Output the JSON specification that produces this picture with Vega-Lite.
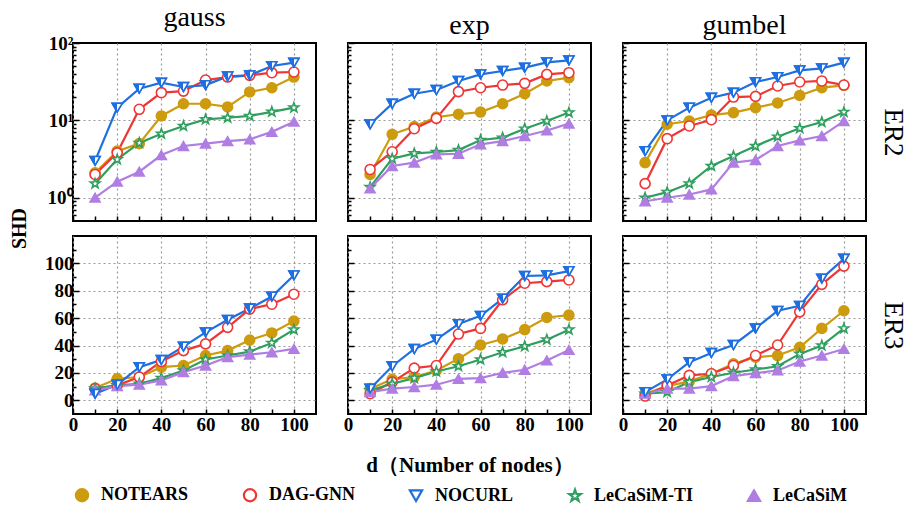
{
"$schema": "https://vega.github.io/schema/vega-lite/v6.json",
"background": "white",
"padding": {"left": 8, "top": 3, "right": 6, "bottom": 2},
"bounds": "flush",
"columns": 3,
"spacing": {"row": 15, "column": 32},
"datasets": {"shd": [
{"graph":"ER2","dist":"gauss","method":"NOTEARS","d":10,"shd":2.1},{"graph":"ER2","dist":"gauss","method":"NOTEARS","d":20,"shd":4.0},{"graph":"ER2","dist":"gauss","method":"NOTEARS","d":30,"shd":5.0},{"graph":"ER2","dist":"gauss","method":"NOTEARS","d":40,"shd":11.4},{"graph":"ER2","dist":"gauss","method":"NOTEARS","d":50,"shd":16.4},{"graph":"ER2","dist":"gauss","method":"NOTEARS","d":60,"shd":16.4},{"graph":"ER2","dist":"gauss","method":"NOTEARS","d":70,"shd":14.9},{"graph":"ER2","dist":"gauss","method":"NOTEARS","d":80,"shd":23.3},{"graph":"ER2","dist":"gauss","method":"NOTEARS","d":90,"shd":26.4},{"graph":"ER2","dist":"gauss","method":"NOTEARS","d":100,"shd":36.3},
{"graph":"ER2","dist":"gauss","method":"DAG-GNN","d":10,"shd":2.0},{"graph":"ER2","dist":"gauss","method":"DAG-GNN","d":20,"shd":3.8},{"graph":"ER2","dist":"gauss","method":"DAG-GNN","d":30,"shd":13.9},{"graph":"ER2","dist":"gauss","method":"DAG-GNN","d":40,"shd":22.8},{"graph":"ER2","dist":"gauss","method":"DAG-GNN","d":50,"shd":23.9},{"graph":"ER2","dist":"gauss","method":"DAG-GNN","d":60,"shd":33.2},{"graph":"ER2","dist":"gauss","method":"DAG-GNN","d":70,"shd":36.3},{"graph":"ER2","dist":"gauss","method":"DAG-GNN","d":80,"shd":38.2},{"graph":"ER2","dist":"gauss","method":"DAG-GNN","d":90,"shd":41.3},{"graph":"ER2","dist":"gauss","method":"DAG-GNN","d":100,"shd":42.2},
{"graph":"ER2","dist":"gauss","method":"NOCURL","d":10,"shd":3.0},{"graph":"ER2","dist":"gauss","method":"NOCURL","d":20,"shd":14.6},{"graph":"ER2","dist":"gauss","method":"NOCURL","d":30,"shd":25.7},{"graph":"ER2","dist":"gauss","method":"NOCURL","d":40,"shd":30.7},{"graph":"ER2","dist":"gauss","method":"NOCURL","d":50,"shd":27.0},{"graph":"ER2","dist":"gauss","method":"NOCURL","d":60,"shd":28.6},{"graph":"ER2","dist":"gauss","method":"NOCURL","d":70,"shd":37.0},{"graph":"ER2","dist":"gauss","method":"NOCURL","d":80,"shd":38.2},{"graph":"ER2","dist":"gauss","method":"NOCURL","d":90,"shd":50.4},{"graph":"ER2","dist":"gauss","method":"NOCURL","d":100,"shd":55.7},
{"graph":"ER2","dist":"gauss","method":"LeCaSiM-TI","d":10,"shd":1.52},{"graph":"ER2","dist":"gauss","method":"LeCaSiM-TI","d":20,"shd":3.13},{"graph":"ER2","dist":"gauss","method":"LeCaSiM-TI","d":30,"shd":5.1},{"graph":"ER2","dist":"gauss","method":"LeCaSiM-TI","d":40,"shd":6.7},{"graph":"ER2","dist":"gauss","method":"LeCaSiM-TI","d":50,"shd":8.45},{"graph":"ER2","dist":"gauss","method":"LeCaSiM-TI","d":60,"shd":10.3},{"graph":"ER2","dist":"gauss","method":"LeCaSiM-TI","d":70,"shd":10.8},{"graph":"ER2","dist":"gauss","method":"LeCaSiM-TI","d":80,"shd":11.4},{"graph":"ER2","dist":"gauss","method":"LeCaSiM-TI","d":90,"shd":12.9},{"graph":"ER2","dist":"gauss","method":"LeCaSiM-TI","d":100,"shd":14.6},
{"graph":"ER2","dist":"gauss","method":"LeCaSiM","d":10,"shd":1.0},{"graph":"ER2","dist":"gauss","method":"LeCaSiM","d":20,"shd":1.61},{"graph":"ER2","dist":"gauss","method":"LeCaSiM","d":30,"shd":2.17},{"graph":"ER2","dist":"gauss","method":"LeCaSiM","d":40,"shd":3.56},{"graph":"ER2","dist":"gauss","method":"LeCaSiM","d":50,"shd":4.66},{"graph":"ER2","dist":"gauss","method":"LeCaSiM","d":60,"shd":5.0},{"graph":"ER2","dist":"gauss","method":"LeCaSiM","d":70,"shd":5.4},{"graph":"ER2","dist":"gauss","method":"LeCaSiM","d":80,"shd":5.68},{"graph":"ER2","dist":"gauss","method":"LeCaSiM","d":90,"shd":7.1},{"graph":"ER2","dist":"gauss","method":"LeCaSiM","d":100,"shd":9.6},
{"graph":"ER2","dist":"exp","method":"NOTEARS","d":10,"shd":2.0},{"graph":"ER2","dist":"exp","method":"NOTEARS","d":20,"shd":6.6},{"graph":"ER2","dist":"exp","method":"NOTEARS","d":30,"shd":8.3},{"graph":"ER2","dist":"exp","method":"NOTEARS","d":40,"shd":11.0},{"graph":"ER2","dist":"exp","method":"NOTEARS","d":50,"shd":12.0},{"graph":"ER2","dist":"exp","method":"NOTEARS","d":60,"shd":12.8},{"graph":"ER2","dist":"exp","method":"NOTEARS","d":70,"shd":16.4},{"graph":"ER2","dist":"exp","method":"NOTEARS","d":80,"shd":22.1},{"graph":"ER2","dist":"exp","method":"NOTEARS","d":90,"shd":32.3},{"graph":"ER2","dist":"exp","method":"NOTEARS","d":100,"shd":35.6},
{"graph":"ER2","dist":"exp","method":"DAG-GNN","d":10,"shd":2.32},{"graph":"ER2","dist":"exp","method":"DAG-GNN","d":20,"shd":3.93},{"graph":"ER2","dist":"exp","method":"DAG-GNN","d":30,"shd":7.8},{"graph":"ER2","dist":"exp","method":"DAG-GNN","d":40,"shd":10.6},{"graph":"ER2","dist":"exp","method":"DAG-GNN","d":50,"shd":23.5},{"graph":"ER2","dist":"exp","method":"DAG-GNN","d":60,"shd":26.4},{"graph":"ER2","dist":"exp","method":"DAG-GNN","d":70,"shd":28.6},{"graph":"ER2","dist":"exp","method":"DAG-GNN","d":80,"shd":30.1},{"graph":"ER2","dist":"exp","method":"DAG-GNN","d":90,"shd":39.3},{"graph":"ER2","dist":"exp","method":"DAG-GNN","d":100,"shd":41.3},
{"graph":"ER2","dist":"exp","method":"NOCURL","d":10,"shd":8.9},{"graph":"ER2","dist":"exp","method":"NOCURL","d":20,"shd":16.4},{"graph":"ER2","dist":"exp","method":"NOCURL","d":30,"shd":22.1},{"graph":"ER2","dist":"exp","method":"NOCURL","d":40,"shd":24.7},{"graph":"ER2","dist":"exp","method":"NOCURL","d":50,"shd":32.3},{"graph":"ER2","dist":"exp","method":"NOCURL","d":60,"shd":39.3},{"graph":"ER2","dist":"exp","method":"NOCURL","d":70,"shd":43.5},{"graph":"ER2","dist":"exp","method":"NOCURL","d":80,"shd":48.0},{"graph":"ER2","dist":"exp","method":"NOCURL","d":90,"shd":56.2},{"graph":"ER2","dist":"exp","method":"NOCURL","d":100,"shd":59.7},
{"graph":"ER2","dist":"exp","method":"LeCaSiM-TI","d":10,"shd":1.37},{"graph":"ER2","dist":"exp","method":"LeCaSiM-TI","d":20,"shd":3.2},{"graph":"ER2","dist":"exp","method":"LeCaSiM-TI","d":30,"shd":3.74},{"graph":"ER2","dist":"exp","method":"LeCaSiM-TI","d":40,"shd":3.9},{"graph":"ER2","dist":"exp","method":"LeCaSiM-TI","d":50,"shd":4.13},{"graph":"ER2","dist":"exp","method":"LeCaSiM-TI","d":60,"shd":5.57},{"graph":"ER2","dist":"exp","method":"LeCaSiM-TI","d":70,"shd":5.97},{"graph":"ER2","dist":"exp","method":"LeCaSiM-TI","d":80,"shd":7.8},{"graph":"ER2","dist":"exp","method":"LeCaSiM-TI","d":90,"shd":9.8},{"graph":"ER2","dist":"exp","method":"LeCaSiM-TI","d":100,"shd":12.6},
{"graph":"ER2","dist":"exp","method":"LeCaSiM","d":10,"shd":1.32},{"graph":"ER2","dist":"exp","method":"LeCaSiM","d":20,"shd":2.57},{"graph":"ER2","dist":"exp","method":"LeCaSiM","d":30,"shd":2.84},{"graph":"ER2","dist":"exp","method":"LeCaSiM","d":40,"shd":3.64},{"graph":"ER2","dist":"exp","method":"LeCaSiM","d":50,"shd":3.7},{"graph":"ER2","dist":"exp","method":"LeCaSiM","d":60,"shd":4.9},{"graph":"ER2","dist":"exp","method":"LeCaSiM","d":70,"shd":5.4},{"graph":"ER2","dist":"exp","method":"LeCaSiM","d":80,"shd":6.27},{"graph":"ER2","dist":"exp","method":"LeCaSiM","d":90,"shd":7.4},{"graph":"ER2","dist":"exp","method":"LeCaSiM","d":100,"shd":9.06},
{"graph":"ER2","dist":"gumbel","method":"NOTEARS","d":10,"shd":2.84},{"graph":"ER2","dist":"gumbel","method":"NOTEARS","d":20,"shd":8.9},{"graph":"ER2","dist":"gumbel","method":"NOTEARS","d":30,"shd":9.8},{"graph":"ER2","dist":"gumbel","method":"NOTEARS","d":40,"shd":11.7},{"graph":"ER2","dist":"gumbel","method":"NOTEARS","d":50,"shd":12.6},{"graph":"ER2","dist":"gumbel","method":"NOTEARS","d":60,"shd":14.6},{"graph":"ER2","dist":"gumbel","method":"NOTEARS","d":70,"shd":16.8},{"graph":"ER2","dist":"gumbel","method":"NOTEARS","d":80,"shd":21.0},{"graph":"ER2","dist":"gumbel","method":"NOTEARS","d":90,"shd":26.5},{"graph":"ER2","dist":"gumbel","method":"NOTEARS","d":100,"shd":28.4},
{"graph":"ER2","dist":"gumbel","method":"DAG-GNN","d":10,"shd":1.52},{"graph":"ER2","dist":"gumbel","method":"DAG-GNN","d":20,"shd":5.8},{"graph":"ER2","dist":"gumbel","method":"DAG-GNN","d":30,"shd":8.45},{"graph":"ER2","dist":"gumbel","method":"DAG-GNN","d":40,"shd":10.2},{"graph":"ER2","dist":"gumbel","method":"DAG-GNN","d":50,"shd":20.0},{"graph":"ER2","dist":"gumbel","method":"DAG-GNN","d":60,"shd":20.4},{"graph":"ER2","dist":"gumbel","method":"DAG-GNN","d":70,"shd":27.8},{"graph":"ER2","dist":"gumbel","method":"DAG-GNN","d":80,"shd":31.3},{"graph":"ER2","dist":"gumbel","method":"DAG-GNN","d":90,"shd":32.3},{"graph":"ER2","dist":"gumbel","method":"DAG-GNN","d":100,"shd":28.6},
{"graph":"ER2","dist":"gumbel","method":"NOCURL","d":10,"shd":4.0},{"graph":"ER2","dist":"gumbel","method":"NOCURL","d":20,"shd":10.0},{"graph":"ER2","dist":"gumbel","method":"NOCURL","d":30,"shd":14.6},{"graph":"ER2","dist":"gumbel","method":"NOCURL","d":40,"shd":19.6},{"graph":"ER2","dist":"gumbel","method":"NOCURL","d":50,"shd":22.8},{"graph":"ER2","dist":"gumbel","method":"NOCURL","d":60,"shd":31.3},{"graph":"ER2","dist":"gumbel","method":"NOCURL","d":70,"shd":36.3},{"graph":"ER2","dist":"gumbel","method":"NOCURL","d":80,"shd":44.3},{"graph":"ER2","dist":"gumbel","method":"NOCURL","d":90,"shd":47.0},{"graph":"ER2","dist":"gumbel","method":"NOCURL","d":100,"shd":55.7},
{"graph":"ER2","dist":"gumbel","method":"LeCaSiM-TI","d":10,"shd":1.0},{"graph":"ER2","dist":"gumbel","method":"LeCaSiM-TI","d":20,"shd":1.18},{"graph":"ER2","dist":"gumbel","method":"LeCaSiM-TI","d":30,"shd":1.52},{"graph":"ER2","dist":"gumbel","method":"LeCaSiM-TI","d":40,"shd":2.57},{"graph":"ER2","dist":"gumbel","method":"LeCaSiM-TI","d":50,"shd":3.46},{"graph":"ER2","dist":"gumbel","method":"LeCaSiM-TI","d":60,"shd":4.66},{"graph":"ER2","dist":"gumbel","method":"LeCaSiM-TI","d":70,"shd":6.15},{"graph":"ER2","dist":"gumbel","method":"LeCaSiM-TI","d":80,"shd":7.9},{"graph":"ER2","dist":"gumbel","method":"LeCaSiM-TI","d":90,"shd":9.5},{"graph":"ER2","dist":"gumbel","method":"LeCaSiM-TI","d":100,"shd":12.8},
{"graph":"ER2","dist":"gumbel","method":"LeCaSiM","d":10,"shd":0.9},{"graph":"ER2","dist":"gumbel","method":"LeCaSiM","d":20,"shd":1.0},{"graph":"ER2","dist":"gumbel","method":"LeCaSiM","d":30,"shd":1.1},{"graph":"ER2","dist":"gumbel","method":"LeCaSiM","d":40,"shd":1.28},{"graph":"ER2","dist":"gumbel","method":"LeCaSiM","d":50,"shd":2.84},{"graph":"ER2","dist":"gumbel","method":"LeCaSiM","d":60,"shd":3.07},{"graph":"ER2","dist":"gumbel","method":"LeCaSiM","d":70,"shd":4.66},{"graph":"ER2","dist":"gumbel","method":"LeCaSiM","d":80,"shd":5.5},{"graph":"ER2","dist":"gumbel","method":"LeCaSiM","d":90,"shd":6.27},{"graph":"ER2","dist":"gumbel","method":"LeCaSiM","d":100,"shd":9.8},
{"graph":"ER3","dist":"gauss","method":"NOTEARS","d":10,"shd":9.0},{"graph":"ER3","dist":"gauss","method":"NOTEARS","d":20,"shd":15.7},{"graph":"ER3","dist":"gauss","method":"NOTEARS","d":30,"shd":17.0},{"graph":"ER3","dist":"gauss","method":"NOTEARS","d":40,"shd":24.2},{"graph":"ER3","dist":"gauss","method":"NOTEARS","d":50,"shd":25.4},{"graph":"ER3","dist":"gauss","method":"NOTEARS","d":60,"shd":32.7},{"graph":"ER3","dist":"gauss","method":"NOTEARS","d":70,"shd":36.3},{"graph":"ER3","dist":"gauss","method":"NOTEARS","d":80,"shd":44.0},{"graph":"ER3","dist":"gauss","method":"NOTEARS","d":90,"shd":49.2},{"graph":"ER3","dist":"gauss","method":"NOTEARS","d":100,"shd":57.9},
{"graph":"ER3","dist":"gauss","method":"DAG-GNN","d":10,"shd":8.5},{"graph":"ER3","dist":"gauss","method":"DAG-GNN","d":20,"shd":10.9},{"graph":"ER3","dist":"gauss","method":"DAG-GNN","d":30,"shd":17.0},{"graph":"ER3","dist":"gauss","method":"DAG-GNN","d":40,"shd":28.3},{"graph":"ER3","dist":"gauss","method":"DAG-GNN","d":50,"shd":36.3},{"graph":"ER3","dist":"gauss","method":"DAG-GNN","d":60,"shd":41.2},{"graph":"ER3","dist":"gauss","method":"DAG-GNN","d":70,"shd":53.3},{"graph":"ER3","dist":"gauss","method":"DAG-GNN","d":80,"shd":66.6},{"graph":"ER3","dist":"gauss","method":"DAG-GNN","d":90,"shd":70.2},{"graph":"ER3","dist":"gauss","method":"DAG-GNN","d":100,"shd":77.5},
{"graph":"ER3","dist":"gauss","method":"NOCURL","d":10,"shd":4.8},{"graph":"ER3","dist":"gauss","method":"NOCURL","d":20,"shd":11.4},{"graph":"ER3","dist":"gauss","method":"NOCURL","d":30,"shd":24.2},{"graph":"ER3","dist":"gauss","method":"NOCURL","d":40,"shd":29.5},{"graph":"ER3","dist":"gauss","method":"NOCURL","d":50,"shd":39.2},{"graph":"ER3","dist":"gauss","method":"NOCURL","d":60,"shd":49.6},{"graph":"ER3","dist":"gauss","method":"NOCURL","d":70,"shd":58.8},{"graph":"ER3","dist":"gauss","method":"NOCURL","d":80,"shd":67.1},{"graph":"ER3","dist":"gauss","method":"NOCURL","d":90,"shd":75.8},{"graph":"ER3","dist":"gauss","method":"NOCURL","d":100,"shd":91.3},
{"graph":"ER3","dist":"gauss","method":"LeCaSiM-TI","d":10,"shd":8.5},{"graph":"ER3","dist":"gauss","method":"LeCaSiM-TI","d":20,"shd":10.9},{"graph":"ER3","dist":"gauss","method":"LeCaSiM-TI","d":30,"shd":12.1},{"graph":"ER3","dist":"gauss","method":"LeCaSiM-TI","d":40,"shd":16.2},{"graph":"ER3","dist":"gauss","method":"LeCaSiM-TI","d":50,"shd":21.8},{"graph":"ER3","dist":"gauss","method":"LeCaSiM-TI","d":60,"shd":29.8},{"graph":"ER3","dist":"gauss","method":"LeCaSiM-TI","d":70,"shd":32.7},{"graph":"ER3","dist":"gauss","method":"LeCaSiM-TI","d":80,"shd":35.6},{"graph":"ER3","dist":"gauss","method":"LeCaSiM-TI","d":90,"shd":41.9},{"graph":"ER3","dist":"gauss","method":"LeCaSiM-TI","d":100,"shd":51.6},
{"graph":"ER3","dist":"gauss","method":"LeCaSiM","d":10,"shd":7.3},{"graph":"ER3","dist":"gauss","method":"LeCaSiM","d":20,"shd":10.4},{"graph":"ER3","dist":"gauss","method":"LeCaSiM","d":30,"shd":11.4},{"graph":"ER3","dist":"gauss","method":"LeCaSiM","d":40,"shd":14.5},{"graph":"ER3","dist":"gauss","method":"LeCaSiM","d":50,"shd":20.6},{"graph":"ER3","dist":"gauss","method":"LeCaSiM","d":60,"shd":25.4},{"graph":"ER3","dist":"gauss","method":"LeCaSiM","d":70,"shd":31.5},{"graph":"ER3","dist":"gauss","method":"LeCaSiM","d":80,"shd":33.4},{"graph":"ER3","dist":"gauss","method":"LeCaSiM","d":90,"shd":35.1},{"graph":"ER3","dist":"gauss","method":"LeCaSiM","d":100,"shd":37.5},
{"graph":"ER3","dist":"exp","method":"NOTEARS","d":10,"shd":8.5},{"graph":"ER3","dist":"exp","method":"NOTEARS","d":20,"shd":15.3},{"graph":"ER3","dist":"exp","method":"NOTEARS","d":30,"shd":17.0},{"graph":"ER3","dist":"exp","method":"NOTEARS","d":40,"shd":21.8},{"graph":"ER3","dist":"exp","method":"NOTEARS","d":50,"shd":30.3},{"graph":"ER3","dist":"exp","method":"NOTEARS","d":60,"shd":40.4},{"graph":"ER3","dist":"exp","method":"NOTEARS","d":70,"shd":44.8},{"graph":"ER3","dist":"exp","method":"NOTEARS","d":80,"shd":51.6},{"graph":"ER3","dist":"exp","method":"NOTEARS","d":90,"shd":60.5},{"graph":"ER3","dist":"exp","method":"NOTEARS","d":100,"shd":62.2},
{"graph":"ER3","dist":"exp","method":"DAG-GNN","d":10,"shd":4.8},{"graph":"ER3","dist":"exp","method":"DAG-GNN","d":20,"shd":13.3},{"graph":"ER3","dist":"exp","method":"DAG-GNN","d":30,"shd":23.5},{"graph":"ER3","dist":"exp","method":"DAG-GNN","d":40,"shd":25.4},{"graph":"ER3","dist":"exp","method":"DAG-GNN","d":50,"shd":48.4},{"graph":"ER3","dist":"exp","method":"DAG-GNN","d":60,"shd":52.5},{"graph":"ER3","dist":"exp","method":"DAG-GNN","d":70,"shd":73.4},{"graph":"ER3","dist":"exp","method":"DAG-GNN","d":80,"shd":85.5},{"graph":"ER3","dist":"exp","method":"DAG-GNN","d":90,"shd":86.7},{"graph":"ER3","dist":"exp","method":"DAG-GNN","d":100,"shd":87.9},
{"graph":"ER3","dist":"exp","method":"NOCURL","d":10,"shd":8.5},{"graph":"ER3","dist":"exp","method":"NOCURL","d":20,"shd":24.9},{"graph":"ER3","dist":"exp","method":"NOCURL","d":30,"shd":37.5},{"graph":"ER3","dist":"exp","method":"NOCURL","d":40,"shd":44.3},{"graph":"ER3","dist":"exp","method":"NOCURL","d":50,"shd":55.7},{"graph":"ER3","dist":"exp","method":"NOCURL","d":60,"shd":61.7},{"graph":"ER3","dist":"exp","method":"NOCURL","d":70,"shd":74.3},{"graph":"ER3","dist":"exp","method":"NOCURL","d":80,"shd":90.8},{"graph":"ER3","dist":"exp","method":"NOCURL","d":90,"shd":91.3},{"graph":"ER3","dist":"exp","method":"NOCURL","d":100,"shd":94.4},
{"graph":"ER3","dist":"exp","method":"LeCaSiM-TI","d":10,"shd":7.3},{"graph":"ER3","dist":"exp","method":"LeCaSiM-TI","d":20,"shd":12.1},{"graph":"ER3","dist":"exp","method":"LeCaSiM-TI","d":30,"shd":16.2},{"graph":"ER3","dist":"exp","method":"LeCaSiM-TI","d":40,"shd":21.0},{"graph":"ER3","dist":"exp","method":"LeCaSiM-TI","d":50,"shd":24.9},{"graph":"ER3","dist":"exp","method":"LeCaSiM-TI","d":60,"shd":29.8},{"graph":"ER3","dist":"exp","method":"LeCaSiM-TI","d":70,"shd":35.1},{"graph":"ER3","dist":"exp","method":"LeCaSiM-TI","d":80,"shd":39.5},{"graph":"ER3","dist":"exp","method":"LeCaSiM-TI","d":90,"shd":44.3},{"graph":"ER3","dist":"exp","method":"LeCaSiM-TI","d":100,"shd":51.6},
{"graph":"ER3","dist":"exp","method":"LeCaSiM","d":10,"shd":6.0},{"graph":"ER3","dist":"exp","method":"LeCaSiM","d":20,"shd":8.5},{"graph":"ER3","dist":"exp","method":"LeCaSiM","d":30,"shd":9.7},{"graph":"ER3","dist":"exp","method":"LeCaSiM","d":40,"shd":11.4},{"graph":"ER3","dist":"exp","method":"LeCaSiM","d":50,"shd":15.7},{"graph":"ER3","dist":"exp","method":"LeCaSiM","d":60,"shd":16.2},{"graph":"ER3","dist":"exp","method":"LeCaSiM","d":70,"shd":20.1},{"graph":"ER3","dist":"exp","method":"LeCaSiM","d":80,"shd":22.3},{"graph":"ER3","dist":"exp","method":"LeCaSiM","d":90,"shd":29.1},{"graph":"ER3","dist":"exp","method":"LeCaSiM","d":100,"shd":36.8},
{"graph":"ER3","dist":"gumbel","method":"NOTEARS","d":10,"shd":4.8},{"graph":"ER3","dist":"gumbel","method":"NOTEARS","d":20,"shd":10.4},{"graph":"ER3","dist":"gumbel","method":"NOTEARS","d":30,"shd":13.8},{"graph":"ER3","dist":"gumbel","method":"NOTEARS","d":40,"shd":19.4},{"graph":"ER3","dist":"gumbel","method":"NOTEARS","d":50,"shd":26.6},{"graph":"ER3","dist":"gumbel","method":"NOTEARS","d":60,"shd":31.5},{"graph":"ER3","dist":"gumbel","method":"NOTEARS","d":70,"shd":32.7},{"graph":"ER3","dist":"gumbel","method":"NOTEARS","d":80,"shd":38.7},{"graph":"ER3","dist":"gumbel","method":"NOTEARS","d":90,"shd":52.5},{"graph":"ER3","dist":"gumbel","method":"NOTEARS","d":100,"shd":65.4},
{"graph":"ER3","dist":"gumbel","method":"DAG-GNN","d":10,"shd":3.1},{"graph":"ER3","dist":"gumbel","method":"DAG-GNN","d":20,"shd":10.9},{"graph":"ER3","dist":"gumbel","method":"DAG-GNN","d":30,"shd":18.2},{"graph":"ER3","dist":"gumbel","method":"DAG-GNN","d":40,"shd":19.4},{"graph":"ER3","dist":"gumbel","method":"DAG-GNN","d":50,"shd":25.4},{"graph":"ER3","dist":"gumbel","method":"DAG-GNN","d":60,"shd":32.7},{"graph":"ER3","dist":"gumbel","method":"DAG-GNN","d":70,"shd":40.4},{"graph":"ER3","dist":"gumbel","method":"DAG-GNN","d":80,"shd":64.6},{"graph":"ER3","dist":"gumbel","method":"DAG-GNN","d":90,"shd":84.7},{"graph":"ER3","dist":"gumbel","method":"DAG-GNN","d":100,"shd":98.0},
{"graph":"ER3","dist":"gumbel","method":"NOCURL","d":10,"shd":6.0},{"graph":"ER3","dist":"gumbel","method":"NOCURL","d":20,"shd":15.3},{"graph":"ER3","dist":"gumbel","method":"NOCURL","d":30,"shd":27.8},{"graph":"ER3","dist":"gumbel","method":"NOCURL","d":40,"shd":34.6},{"graph":"ER3","dist":"gumbel","method":"NOCURL","d":50,"shd":40.4},{"graph":"ER3","dist":"gumbel","method":"NOCURL","d":60,"shd":52.5},{"graph":"ER3","dist":"gumbel","method":"NOCURL","d":70,"shd":65.4},{"graph":"ER3","dist":"gumbel","method":"NOCURL","d":80,"shd":69.0},{"graph":"ER3","dist":"gumbel","method":"NOCURL","d":90,"shd":88.9},{"graph":"ER3","dist":"gumbel","method":"NOCURL","d":100,"shd":103.4},
{"graph":"ER3","dist":"gumbel","method":"LeCaSiM-TI","d":10,"shd":4.8},{"graph":"ER3","dist":"gumbel","method":"LeCaSiM-TI","d":20,"shd":6.0},{"graph":"ER3","dist":"gumbel","method":"LeCaSiM-TI","d":30,"shd":13.3},{"graph":"ER3","dist":"gumbel","method":"LeCaSiM-TI","d":40,"shd":17.0},{"graph":"ER3","dist":"gumbel","method":"LeCaSiM-TI","d":50,"shd":20.1},{"graph":"ER3","dist":"gumbel","method":"LeCaSiM-TI","d":60,"shd":22.5},{"graph":"ER3","dist":"gumbel","method":"LeCaSiM-TI","d":70,"shd":24.9},{"graph":"ER3","dist":"gumbel","method":"LeCaSiM-TI","d":80,"shd":33.9},{"graph":"ER3","dist":"gumbel","method":"LeCaSiM-TI","d":90,"shd":40.0},{"graph":"ER3","dist":"gumbel","method":"LeCaSiM-TI","d":100,"shd":52.5},
{"graph":"ER3","dist":"gumbel","method":"LeCaSiM","d":10,"shd":4.8},{"graph":"ER3","dist":"gumbel","method":"LeCaSiM","d":20,"shd":8.5},{"graph":"ER3","dist":"gumbel","method":"LeCaSiM","d":30,"shd":8.5},{"graph":"ER3","dist":"gumbel","method":"LeCaSiM","d":40,"shd":10.4},{"graph":"ER3","dist":"gumbel","method":"LeCaSiM","d":50,"shd":17.7},{"graph":"ER3","dist":"gumbel","method":"LeCaSiM","d":60,"shd":19.9},{"graph":"ER3","dist":"gumbel","method":"LeCaSiM","d":70,"shd":21.8},{"graph":"ER3","dist":"gumbel","method":"LeCaSiM","d":80,"shd":28.3},{"graph":"ER3","dist":"gumbel","method":"LeCaSiM","d":90,"shd":32.7},{"graph":"ER3","dist":"gumbel","method":"LeCaSiM","d":100,"shd":37.5}
]},
"concat": [
{
 "title": {"text": "gauss"},
 "width": 243, "height": 178,
 "data": {"name": "shd"},
 "transform": [{"filter": "datum.graph==='ER2' && datum.dist==='gauss'"}],
 "layer": [
  {"mark": {"type": "line", "strokeWidth": 2.2},
   "encoding": {
    "x": {"field": "d", "type": "quantitative", "scale": {"domain": [0, 110], "nice": false, "zero": false},
          "axis": {"values": [0,10,20,30,40,50,60,70,80,90,100], "tickCount": 50, "labels": false, "tickSize": -5, "grid": true, "gridOpacity": {"condition": {"test": "datum.value % 20 === 0", "value": 1}, "value": 0}, "title": null}},
    "y": {"field": "shd", "type": "quantitative", "scale": {"type": "log", "domain": [0.5, 100], "nice": false},
          "axis": {"values": [0.6,0.7,0.8,0.9,1,2,3,4,5,6,7,8,9,10,20,30,40,50,60,70,80,90,100], "tickCount": 50, "labelExpr": "datum.value===1 ? '10⁰' : datum.value===10 ? '10¹' : datum.value===100 ? '10²' : ''", "tickSize": {"condition": {"test": "datum.value===1 || datum.value===10 || datum.value===100", "value": -6}, "value": -3}, "gridOpacity": {"condition": {"test": "datum.value===1 || datum.value===10", "value": 1}, "value": 0}, "labelPadding": 6, "title": "SHD", "titleFontSize": 20, "titleFontWeight": "bold", "titleAngle": 270, "titleX": -44, "titleY": 185}},
    "stroke": {"field": "method", "type": "nominal", "scale": {"domain": ["NOTEARS","DAG-GNN","NOCURL","LeCaSiM-TI","LeCaSiM"], "range": ["#CD9B0E","#EE3636","#1E6FE0","#2F9E5E","#B07EE3"]}}
   }},
  {"mark": {"type": "point", "size": 100, "strokeWidth": 1.6, "opacity": 1, "filled": true},
   "encoding": {
    "x": {"field": "d", "type": "quantitative"},
    "y": {"field": "shd", "type": "quantitative"},
    "stroke": {"field": "method", "type": "nominal", "legend": {"title": null}},
    "fill": {"field": "method", "type": "nominal", "scale": {"domain": ["NOTEARS","DAG-GNN","NOCURL","LeCaSiM-TI","LeCaSiM"], "range": ["#CD9B0E","white","white","white","#B07EE3"]}, "legend": {"title": null}},
    "shape": {"field": "method", "type": "nominal", "scale": {"domain": ["NOTEARS","DAG-GNN","NOCURL","LeCaSiM-TI","LeCaSiM"], "range": ["circle","circle","triangle-down","M0,-1L0.235,-0.324L0.951,-0.309L0.38,0.124L0.588,0.809L0,0.4L-0.588,0.809L-0.38,0.124L-0.951,-0.309L-0.235,-0.324Z","triangle-up"]}, "legend": {"title": null}}
   }},
  {"transform": [{"filter": "datum.method==='NOCURL'"}],
   "mark": {"type": "point", "shape": "triangle-down", "size": 100, "stroke": "#1E6FE0", "strokeWidth": 1.6, "opacity": 1, "filled": true, "fill": {"gradient": "linear", "x1": 0, "y1": 0, "x2": 1, "y2": 0, "stops": [{"offset": 0, "color": "#1E6FE0"}, {"offset": 0.5, "color": "#1E6FE0"}, {"offset": 0.5, "color": "white"}, {"offset": 1, "color": "white"}]}},
   "encoding": {"x": {"field": "d", "type": "quantitative"}, "y": {"field": "shd", "type": "quantitative"}}}
 ]
},
{
 "title": {"text": "exp"},
 "width": 243, "height": 178,
 "data": {"name": "shd"},
 "transform": [{"filter": "datum.graph==='ER2' && datum.dist==='exp'"}],
 "layer": [
  {"mark": {"type": "line", "strokeWidth": 2.2},
   "encoding": {
    "x": {"field": "d", "type": "quantitative", "scale": {"domain": [0, 110], "nice": false, "zero": false},
          "axis": {"values": [0,10,20,30,40,50,60,70,80,90,100], "tickCount": 50, "labels": false, "tickSize": -5, "grid": true, "gridOpacity": {"condition": {"test": "datum.value % 20 === 0", "value": 1}, "value": 0}, "title": null}},
    "y": {"field": "shd", "type": "quantitative", "scale": {"type": "log", "domain": [0.5, 100], "nice": false},
          "axis": {"values": [0.6,0.7,0.8,0.9,1,2,3,4,5,6,7,8,9,10,20,30,40,50,60,70,80,90,100], "tickCount": 50, "labels": false, "tickSize": {"condition": {"test": "datum.value===1 || datum.value===10 || datum.value===100", "value": -6}, "value": -3}, "gridOpacity": {"condition": {"test": "datum.value===1 || datum.value===10", "value": 1}, "value": 0}, "title": null}},
    "stroke": {"field": "method", "type": "nominal", "scale": {"domain": ["NOTEARS","DAG-GNN","NOCURL","LeCaSiM-TI","LeCaSiM"], "range": ["#CD9B0E","#EE3636","#1E6FE0","#2F9E5E","#B07EE3"]}, "legend": null}
   }},
  {"mark": {"type": "point", "size": 100, "strokeWidth": 1.6, "opacity": 1, "filled": true},
   "encoding": {
    "x": {"field": "d", "type": "quantitative"},
    "y": {"field": "shd", "type": "quantitative"},
    "stroke": {"field": "method", "type": "nominal", "legend": null},
    "fill": {"field": "method", "type": "nominal", "scale": {"domain": ["NOTEARS","DAG-GNN","NOCURL","LeCaSiM-TI","LeCaSiM"], "range": ["#CD9B0E","white","white","white","#B07EE3"]}, "legend": null},
    "shape": {"field": "method", "type": "nominal", "scale": {"domain": ["NOTEARS","DAG-GNN","NOCURL","LeCaSiM-TI","LeCaSiM"], "range": ["circle","circle","triangle-down","M0,-1L0.235,-0.324L0.951,-0.309L0.38,0.124L0.588,0.809L0,0.4L-0.588,0.809L-0.38,0.124L-0.951,-0.309L-0.235,-0.324Z","triangle-up"]}, "legend": null}
   }},
  {"transform": [{"filter": "datum.method==='NOCURL'"}],
   "mark": {"type": "point", "shape": "triangle-down", "size": 100, "stroke": "#1E6FE0", "strokeWidth": 1.6, "opacity": 1, "filled": true, "fill": {"gradient": "linear", "x1": 0, "y1": 0, "x2": 1, "y2": 0, "stops": [{"offset": 0, "color": "#1E6FE0"}, {"offset": 0.5, "color": "#1E6FE0"}, {"offset": 0.5, "color": "white"}, {"offset": 1, "color": "white"}]}},
   "encoding": {"x": {"field": "d", "type": "quantitative"}, "y": {"field": "shd", "type": "quantitative"}}}
 ]
},
{
 "title": {"text": "gumbel"},
 "width": 243, "height": 178,
 "data": {"name": "shd"},
 "transform": [{"filter": "datum.graph==='ER2' && datum.dist==='gumbel'"}],
 "resolve": {"axis": {"y": "independent"}},
 "layer": [
  {"mark": {"type": "line", "strokeWidth": 2.2},
   "encoding": {
    "x": {"field": "d", "type": "quantitative", "scale": {"domain": [0, 110], "nice": false, "zero": false},
          "axis": {"values": [0,10,20,30,40,50,60,70,80,90,100], "tickCount": 50, "labels": false, "tickSize": -5, "grid": true, "gridOpacity": {"condition": {"test": "datum.value % 20 === 0", "value": 1}, "value": 0}, "title": null}},
    "y": {"field": "shd", "type": "quantitative", "scale": {"type": "log", "domain": [0.5, 100], "nice": false},
          "axis": {"orient": "left", "values": [0.6,0.7,0.8,0.9,1,2,3,4,5,6,7,8,9,10,20,30,40,50,60,70,80,90,100], "tickCount": 50, "labels": false, "tickSize": {"condition": {"test": "datum.value===1 || datum.value===10 || datum.value===100", "value": -6}, "value": -3}, "gridOpacity": {"condition": {"test": "datum.value===1 || datum.value===10", "value": 1}, "value": 0}, "title": null}},
    "stroke": {"field": "method", "type": "nominal", "scale": {"domain": ["NOTEARS","DAG-GNN","NOCURL","LeCaSiM-TI","LeCaSiM"], "range": ["#CD9B0E","#EE3636","#1E6FE0","#2F9E5E","#B07EE3"]}, "legend": null}
   }},
  {"mark": {"type": "point", "size": 100, "strokeWidth": 1.6, "opacity": 1, "filled": true},
   "encoding": {
    "x": {"field": "d", "type": "quantitative"},
    "y": {"field": "shd", "type": "quantitative", "axis": {"orient": "right", "labels": false, "ticks": false, "grid": false, "domain": false, "title": "ER2", "titleAngle": 90, "titleFontSize": 27, "titleFontWeight": "normal", "titlePadding": 12}},
    "stroke": {"field": "method", "type": "nominal", "legend": null},
    "fill": {"field": "method", "type": "nominal", "scale": {"domain": ["NOTEARS","DAG-GNN","NOCURL","LeCaSiM-TI","LeCaSiM"], "range": ["#CD9B0E","white","white","white","#B07EE3"]}, "legend": null},
    "shape": {"field": "method", "type": "nominal", "scale": {"domain": ["NOTEARS","DAG-GNN","NOCURL","LeCaSiM-TI","LeCaSiM"], "range": ["circle","circle","triangle-down","M0,-1L0.235,-0.324L0.951,-0.309L0.38,0.124L0.588,0.809L0,0.4L-0.588,0.809L-0.38,0.124L-0.951,-0.309L-0.235,-0.324Z","triangle-up"]}, "legend": null}
   }},
  {"transform": [{"filter": "datum.method==='NOCURL'"}],
   "mark": {"type": "point", "shape": "triangle-down", "size": 100, "stroke": "#1E6FE0", "strokeWidth": 1.6, "opacity": 1, "filled": true, "fill": {"gradient": "linear", "x1": 0, "y1": 0, "x2": 1, "y2": 0, "stops": [{"offset": 0, "color": "#1E6FE0"}, {"offset": 0.5, "color": "#1E6FE0"}, {"offset": 0.5, "color": "white"}, {"offset": 1, "color": "white"}]}},
   "encoding": {"x": {"field": "d", "type": "quantitative"}, "y": {"field": "shd", "type": "quantitative", "axis": null}}}
 ]
},
{
 "width": 243, "height": 178,
 "data": {"name": "shd"},
 "transform": [{"filter": "datum.graph==='ER3' && datum.dist==='gauss'"}],
 "layer": [
  {"mark": {"type": "line", "strokeWidth": 2.2},
   "encoding": {
    "x": {"field": "d", "type": "quantitative", "scale": {"domain": [0, 110], "nice": false, "zero": false},
          "axis": {"values": [0,10,20,30,40,50,60,70,80,90,100], "tickCount": 50, "labelExpr": "datum.value % 20 === 0 ? datum.label : ''", "labelFlush": false, "labelPadding": 6, "tickSize": -5, "grid": true, "gridOpacity": {"condition": {"test": "datum.value % 20 === 0", "value": 1}, "value": 0}, "title": null}},
    "y": {"field": "shd", "type": "quantitative", "scale": {"domain": [-10, 120], "nice": false, "zero": false},
          "axis": {"values": [0,10,20,30,40,50,60,70,80,90,100,110], "tickCount": 50, "labelExpr": "datum.value % 20 === 0 && datum.value <= 100 ? datum.label : ''", "labelPadding": 6, "tickSize": {"condition": {"test": "datum.value % 20 === 0", "value": -6}, "value": -3}, "gridOpacity": {"condition": {"test": "datum.value % 20 === 0 && datum.value <= 100", "value": 1}, "value": 0}, "title": null}},
    "stroke": {"field": "method", "type": "nominal", "scale": {"domain": ["NOTEARS","DAG-GNN","NOCURL","LeCaSiM-TI","LeCaSiM"], "range": ["#CD9B0E","#EE3636","#1E6FE0","#2F9E5E","#B07EE3"]}, "legend": null}
   }},
  {"mark": {"type": "point", "size": 100, "strokeWidth": 1.6, "opacity": 1, "filled": true},
   "encoding": {
    "x": {"field": "d", "type": "quantitative"},
    "y": {"field": "shd", "type": "quantitative"},
    "stroke": {"field": "method", "type": "nominal", "legend": null},
    "fill": {"field": "method", "type": "nominal", "scale": {"domain": ["NOTEARS","DAG-GNN","NOCURL","LeCaSiM-TI","LeCaSiM"], "range": ["#CD9B0E","white","white","white","#B07EE3"]}, "legend": null},
    "shape": {"field": "method", "type": "nominal", "scale": {"domain": ["NOTEARS","DAG-GNN","NOCURL","LeCaSiM-TI","LeCaSiM"], "range": ["circle","circle","triangle-down","M0,-1L0.235,-0.324L0.951,-0.309L0.38,0.124L0.588,0.809L0,0.4L-0.588,0.809L-0.38,0.124L-0.951,-0.309L-0.235,-0.324Z","triangle-up"]}, "legend": null}
   }},
  {"transform": [{"filter": "datum.method==='NOCURL'"}],
   "mark": {"type": "point", "shape": "triangle-down", "size": 100, "stroke": "#1E6FE0", "strokeWidth": 1.6, "opacity": 1, "filled": true, "fill": {"gradient": "linear", "x1": 0, "y1": 0, "x2": 1, "y2": 0, "stops": [{"offset": 0, "color": "#1E6FE0"}, {"offset": 0.5, "color": "#1E6FE0"}, {"offset": 0.5, "color": "white"}, {"offset": 1, "color": "white"}]}},
   "encoding": {"x": {"field": "d", "type": "quantitative"}, "y": {"field": "shd", "type": "quantitative"}}}
 ]
},
{
 "width": 243, "height": 178,
 "data": {"name": "shd"},
 "transform": [{"filter": "datum.graph==='ER3' && datum.dist==='exp'"}],
 "layer": [
  {"mark": {"type": "line", "strokeWidth": 2.2},
   "encoding": {
    "x": {"field": "d", "type": "quantitative", "scale": {"domain": [0, 110], "nice": false, "zero": false},
          "axis": {"values": [0,10,20,30,40,50,60,70,80,90,100], "tickCount": 50, "labelExpr": "datum.value % 20 === 0 ? datum.label : ''", "labelFlush": false, "labelPadding": 6, "tickSize": -5, "grid": true, "gridOpacity": {"condition": {"test": "datum.value % 20 === 0", "value": 1}, "value": 0}, "title": "d（Number of nodes）", "titleFontSize": 21, "titleFontWeight": "bold", "titlePadding": 20}},
    "y": {"field": "shd", "type": "quantitative", "scale": {"domain": [-10, 120], "nice": false, "zero": false},
          "axis": {"values": [0,10,20,30,40,50,60,70,80,90,100,110], "tickCount": 50, "labels": false, "tickSize": {"condition": {"test": "datum.value % 20 === 0", "value": -6}, "value": -3}, "gridOpacity": {"condition": {"test": "datum.value % 20 === 0 && datum.value <= 100", "value": 1}, "value": 0}, "title": null}},
    "stroke": {"field": "method", "type": "nominal", "scale": {"domain": ["NOTEARS","DAG-GNN","NOCURL","LeCaSiM-TI","LeCaSiM"], "range": ["#CD9B0E","#EE3636","#1E6FE0","#2F9E5E","#B07EE3"]}, "legend": null}
   }},
  {"mark": {"type": "point", "size": 100, "strokeWidth": 1.6, "opacity": 1, "filled": true},
   "encoding": {
    "x": {"field": "d", "type": "quantitative"},
    "y": {"field": "shd", "type": "quantitative"},
    "stroke": {"field": "method", "type": "nominal", "legend": null},
    "fill": {"field": "method", "type": "nominal", "scale": {"domain": ["NOTEARS","DAG-GNN","NOCURL","LeCaSiM-TI","LeCaSiM"], "range": ["#CD9B0E","white","white","white","#B07EE3"]}, "legend": null},
    "shape": {"field": "method", "type": "nominal", "scale": {"domain": ["NOTEARS","DAG-GNN","NOCURL","LeCaSiM-TI","LeCaSiM"], "range": ["circle","circle","triangle-down","M0,-1L0.235,-0.324L0.951,-0.309L0.38,0.124L0.588,0.809L0,0.4L-0.588,0.809L-0.38,0.124L-0.951,-0.309L-0.235,-0.324Z","triangle-up"]}, "legend": null}
   }},
  {"transform": [{"filter": "datum.method==='NOCURL'"}],
   "mark": {"type": "point", "shape": "triangle-down", "size": 100, "stroke": "#1E6FE0", "strokeWidth": 1.6, "opacity": 1, "filled": true, "fill": {"gradient": "linear", "x1": 0, "y1": 0, "x2": 1, "y2": 0, "stops": [{"offset": 0, "color": "#1E6FE0"}, {"offset": 0.5, "color": "#1E6FE0"}, {"offset": 0.5, "color": "white"}, {"offset": 1, "color": "white"}]}},
   "encoding": {"x": {"field": "d", "type": "quantitative"}, "y": {"field": "shd", "type": "quantitative"}}}
 ]
},
{
 "width": 243, "height": 178,
 "data": {"name": "shd"},
 "transform": [{"filter": "datum.graph==='ER3' && datum.dist==='gumbel'"}],
 "resolve": {"axis": {"y": "independent"}},
 "layer": [
  {"mark": {"type": "line", "strokeWidth": 2.2},
   "encoding": {
    "x": {"field": "d", "type": "quantitative", "scale": {"domain": [0, 110], "nice": false, "zero": false},
          "axis": {"values": [0,10,20,30,40,50,60,70,80,90,100], "tickCount": 50, "labelExpr": "datum.value % 20 === 0 ? datum.label : ''", "labelFlush": false, "labelPadding": 6, "tickSize": -5, "grid": true, "gridOpacity": {"condition": {"test": "datum.value % 20 === 0", "value": 1}, "value": 0}, "title": null}},
    "y": {"field": "shd", "type": "quantitative", "scale": {"domain": [-10, 120], "nice": false, "zero": false},
          "axis": {"orient": "left", "values": [0,10,20,30,40,50,60,70,80,90,100,110], "tickCount": 50, "labels": false, "tickSize": {"condition": {"test": "datum.value % 20 === 0", "value": -6}, "value": -3}, "gridOpacity": {"condition": {"test": "datum.value % 20 === 0 && datum.value <= 100", "value": 1}, "value": 0}, "title": null}},
    "stroke": {"field": "method", "type": "nominal", "scale": {"domain": ["NOTEARS","DAG-GNN","NOCURL","LeCaSiM-TI","LeCaSiM"], "range": ["#CD9B0E","#EE3636","#1E6FE0","#2F9E5E","#B07EE3"]}, "legend": null}
   }},
  {"mark": {"type": "point", "size": 100, "strokeWidth": 1.6, "opacity": 1, "filled": true},
   "encoding": {
    "x": {"field": "d", "type": "quantitative"},
    "y": {"field": "shd", "type": "quantitative", "axis": {"orient": "right", "labels": false, "ticks": false, "grid": false, "domain": false, "title": "ER3", "titleAngle": 90, "titleFontSize": 27, "titleFontWeight": "normal", "titlePadding": 12}},
    "stroke": {"field": "method", "type": "nominal", "legend": null},
    "fill": {"field": "method", "type": "nominal", "scale": {"domain": ["NOTEARS","DAG-GNN","NOCURL","LeCaSiM-TI","LeCaSiM"], "range": ["#CD9B0E","white","white","white","#B07EE3"]}, "legend": null},
    "shape": {"field": "method", "type": "nominal", "scale": {"domain": ["NOTEARS","DAG-GNN","NOCURL","LeCaSiM-TI","LeCaSiM"], "range": ["circle","circle","triangle-down","M0,-1L0.235,-0.324L0.951,-0.309L0.38,0.124L0.588,0.809L0,0.4L-0.588,0.809L-0.38,0.124L-0.951,-0.309L-0.235,-0.324Z","triangle-up"]}, "legend": null}
   }},
  {"transform": [{"filter": "datum.method==='NOCURL'"}],
   "mark": {"type": "point", "shape": "triangle-down", "size": 100, "stroke": "#1E6FE0", "strokeWidth": 1.6, "opacity": 1, "filled": true, "fill": {"gradient": "linear", "x1": 0, "y1": 0, "x2": 1, "y2": 0, "stops": [{"offset": 0, "color": "#1E6FE0"}, {"offset": 0.5, "color": "#1E6FE0"}, {"offset": 0.5, "color": "white"}, {"offset": 1, "color": "white"}]}},
   "encoding": {"x": {"field": "d", "type": "quantitative"}, "y": {"field": "shd", "type": "quantitative", "axis": null}}}
 ]
}
],
"config": {
 "font": "Liberation Serif",
 "view": {"stroke": "black", "strokeWidth": 2},
 "title": {"font": "Liberation Serif", "fontSize": 28, "fontWeight": "normal", "color": "black", "offset": 2},
 "axis": {"domain": false, "labelFont": "Liberation Serif", "labelFontWeight": "bold", "labelFontSize": 19, "labelColor": "black", "labelOverlap": false, "tickColor": "black", "tickWidth": 1.5, "gridColor": "#999999", "gridDash": [2, 3], "gridWidth": 1.2, "titleFont": "Liberation Serif", "titleColor": "black"},
 "legend": {"orient": "bottom", "direction": "horizontal", "labelFont": "Liberation Serif", "labelFontWeight": "bold", "labelFontSize": 18, "labelColor": "black", "symbolSize": 150, "symbolStrokeWidth": 2.2, "labelOffset": 10, "columnPadding": 50, "offset": 10}
}
}
